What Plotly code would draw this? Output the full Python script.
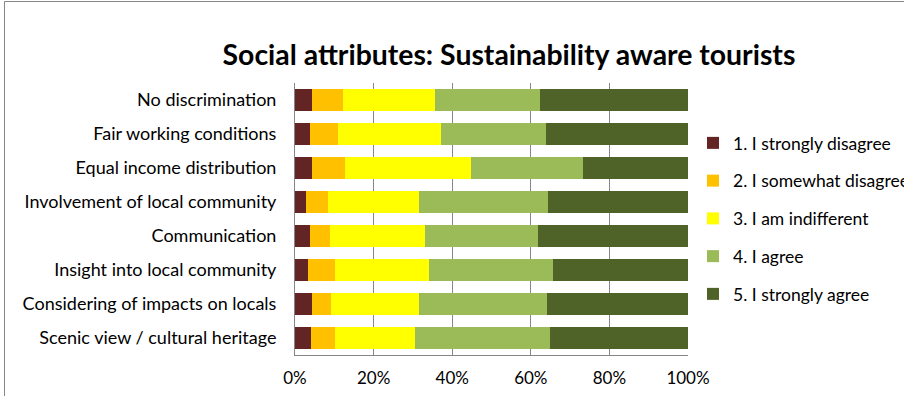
import plotly.graph_objects as go

# Survey items, top to bottom
categories = [
    "No discrimination",
    "Fair working conditions",
    "Equal income distribution",
    "Involvement of local community",
    "Communication",
    "Insight into local community",
    "Considering of impacts on locals",
    "Scenic view / cultural heritage",
]

# Share of answers per item (%)
strongly_disagree = [4.3, 3.8, 4.3, 2.9, 3.8, 3.3, 4.2, 4.0]
somewhat_disagree = [8.0, 7.1, 8.5, 5.4, 5.2, 6.9, 5.0, 6.3]
indifferent = [23.3, 26.3, 31.9, 23.3, 24.2, 23.9, 22.4, 20.3]
agree = [26.7, 26.6, 28.5, 32.9, 28.7, 31.5, 32.4, 34.3]
strongly_agree = [37.7, 36.2, 26.8, 35.5, 38.1, 34.4, 36.0, 35.1]

series_names = [
    "1. I strongly disagree",
    "2. I somewhat disagree",
    "3. I am indifferent",
    "4. I agree",
    "5. I strongly agree",
]
series_values = [strongly_disagree, somewhat_disagree, indifferent, agree, strongly_agree]
series_colors = ["#632523", "#FFC000", "#FFFF00", "#9BBB59", "#4F6228"]

tick_values = [0, 20, 40, 60, 80, 100]
tick_labels = ["0%", "20%", "40%", "60%", "80%", "100%"]

W, H = 904, 396
L, R, T, B = 295, 216, 83, 41
PW, PH = W - L - R, H - T - B

FONT = "Lato"

fig = go.Figure()
for name, vals, col in zip(series_names, series_values, series_colors):
    fig.add_trace(go.Bar(
        y=categories, x=vals, name=name, orientation="h",
        marker=dict(color=col, line=dict(width=0)),
        legendgroup=name,
    ))


def px_x(p):
    return (p - L) / PW


def px_y(p):
    return (H - B - p) / PH


# Outer chart frame (extends past the right and bottom edges)
fig.add_shape(type="rect", xref="paper", yref="paper",
              x0=px_x(4.5), x1=px_x(1000), y0=px_y(500), y1=px_y(1.5),
              line=dict(color="#868686", width=1), fillcolor="rgba(0,0,0,0)",
              layer="below")

fig.update_layout(
    width=W, height=H,
    margin=dict(l=L, r=R, t=T, b=B, pad=0, autoexpand=False),
    barmode="stack",
    bargap=0.36,
    paper_bgcolor="white",
    plot_bgcolor="white",
    font=dict(family=FONT, size=17, color="#000000"),
    title=dict(text="<b>Social attributes: Sustainability aware tourists</b>",
               x=509 / W, xanchor="center", y=1 - 55 / H, yanchor="middle",
               font=dict(family=FONT, size=28.4, color="#000000")),
    xaxis=dict(range=[0, 100], tickvals=tick_values, ticktext=tick_labels,
               showgrid=True, gridcolor="#868686", gridwidth=1,
               showline=True, linecolor="#868686", linewidth=1,
               zeroline=False, ticks="", ticklen=0,
               ticklabelstandoff=8,
               tickfont=dict(family=FONT, size=17, color="#000000")),
    yaxis=dict(autorange="reversed", showline=True, linecolor="#868686",
               linewidth=1, ticks="", showgrid=False,
               ticklabelstandoff=14,
               tickfont=dict(family=FONT, size=18, color="#000000")),
    legend=dict(xref="container", yref="container",
                x=693 / W, xanchor="left", y=1 - 125 / H, yanchor="top",
                traceorder="grouped", tracegroupgap=12,
                font=dict(family=FONT, size=17.5, color="#000000"),
                bgcolor="rgba(0,0,0,0)"),
    showlegend=True,
)

fig.write_html("out.html")
